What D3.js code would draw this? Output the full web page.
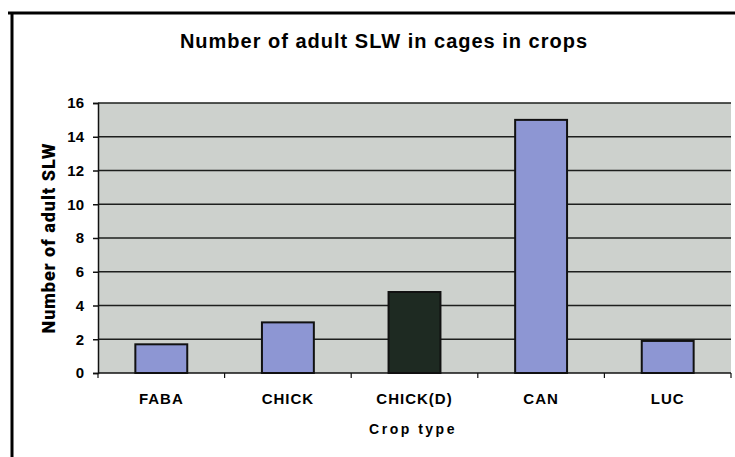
<!DOCTYPE html>
<html>
<head>
<meta charset="utf-8">
<script src="https://cdn.jsdelivr.net/npm/d3@7"></script>
<style>
  html, body { margin: 0; padding: 0; background: #fff; }
  svg { display: block; }
  text { font-family: "Liberation Sans", Arial, sans-serif; }
</style>
</head>
<body>
<svg id="chart" width="735" height="457"></svg>
<script>
// Crop categories and adult SLW counts per cage
const crops = ["FABA", "CHICK", "CHICK(D)", "CAN", "LUC"];
const adultCounts = [1.7, 3.0, 4.8, 15.0, 1.9];
const barColors = ["#8d96d3", "#8d96d3", "#1e2a22", "#8d96d3", "#8d96d3"];
const yTicks = [0, 2, 4, 6, 8, 10, 12, 14, 16];

const svg = d3.select("#chart");
const margin = { left: 98, right: 4, top: 103, bottom: 84 };
const W = 735, H = 457;

// Outer frame (top and left rules)
svg.append("line").attr("x1", 8).attr("x2", 735).attr("y1", 13).attr("y2", 13)
  .attr("stroke", "#000").attr("stroke-width", 3);
svg.append("line").attr("x1", 12).attr("x2", 12).attr("y1", 12).attr("y2", 457)
  .attr("stroke", "#000").attr("stroke-width", 3);

const x = d3.scaleBand().domain(crops)
  .range([margin.left, W - margin.right]).paddingInner(0.59).paddingOuter(0.295);
const y = d3.scaleLinear().domain([0, 16]).range([H - margin.bottom, margin.top]);

// Plot background
svg.append("rect")
  .attr("x", margin.left).attr("y", y(16))
  .attr("width", W - margin.right - margin.left).attr("height", y(0) - y(16))
  .attr("fill", "#cdd1cd");

// Horizontal gridlines
svg.append("g").selectAll("line").data(yTicks.filter(d => d > 0)).join("line")
  .attr("x1", margin.left).attr("x2", W - margin.right)
  .attr("y1", d => y(d)).attr("y2", d => y(d))
  .attr("stroke", "#1d1f1d").attr("stroke-width", 1.5);

// Bars
svg.append("g").selectAll("rect").data(crops).join("rect")
  .attr("x", d => x(d)).attr("width", x.bandwidth())
  .attr("y", (d, i) => y(adultCounts[i]))
  .attr("height", (d, i) => y(0) - y(adultCounts[i]))
  .attr("fill", (d, i) => barColors[i])
  .attr("stroke", "#111").attr("stroke-width", 2);

// Y axis
const yAxis = svg.append("g").attr("transform", `translate(${margin.left},0)`)
  .call(d3.axisLeft(y).tickValues(yTicks).tickSize(5).tickPadding(9));
yAxis.select(".domain").attr("stroke", "#111").attr("stroke-width", 1.5);
yAxis.selectAll(".tick line").attr("stroke", "#111").attr("stroke-width", 1.5);
yAxis.selectAll("text").attr("font-size", 15).attr("font-weight", "bold")
  .attr("fill", "#000").style("font-family", "'Liberation Sans', Arial, sans-serif");

// X axis with ticks at band boundaries
const bounds = [margin.left].concat(crops.map(c => x(c) + x.bandwidth() + x.step() * x.paddingInner() / 2));
bounds[bounds.length - 1] = W - margin.right;
const xg = svg.append("g");
xg.append("line").attr("x1", margin.left).attr("x2", W - margin.right)
  .attr("y1", y(0)).attr("y2", y(0)).attr("stroke", "#111").attr("stroke-width", 1.5);
xg.selectAll("line.tk").data(bounds).join("line").attr("class", "tk")
  .attr("x1", d => d).attr("x2", d => d).attr("y1", y(0)).attr("y2", y(0) + 5)
  .attr("stroke", "#111").attr("stroke-width", 1.2);
xg.selectAll("text").data(crops).join("text")
  .attr("x", d => x(d) + x.bandwidth() / 2).attr("y", 404)
  .attr("text-anchor", "middle").attr("font-size", 15).attr("font-weight", "bold")
  .attr("letter-spacing", 1)
  .text(d => d);

// Titles
svg.append("text").attr("x", 384).attr("y", 48).attr("text-anchor", "middle")
  .attr("font-size", 20).attr("font-weight", "bold").attr("letter-spacing", 1)
  .text("Number of adult SLW in cages in crops");

svg.append("text").attr("x", 413).attr("y", 434).attr("text-anchor", "middle")
  .attr("font-size", 14).attr("font-weight", "bold").attr("letter-spacing", 2.5)
  .text("Crop type");

svg.append("text")
  .attr("transform", "translate(55,238) rotate(-90)")
  .attr("text-anchor", "middle")
  .style("font-family", "Roboto, 'Liberation Sans', sans-serif")
  .attr("font-size", 18).attr("font-weight", 900).attr("letter-spacing", 1)
  .text("Number of adult SLW");
</script>
</body>
</html>
